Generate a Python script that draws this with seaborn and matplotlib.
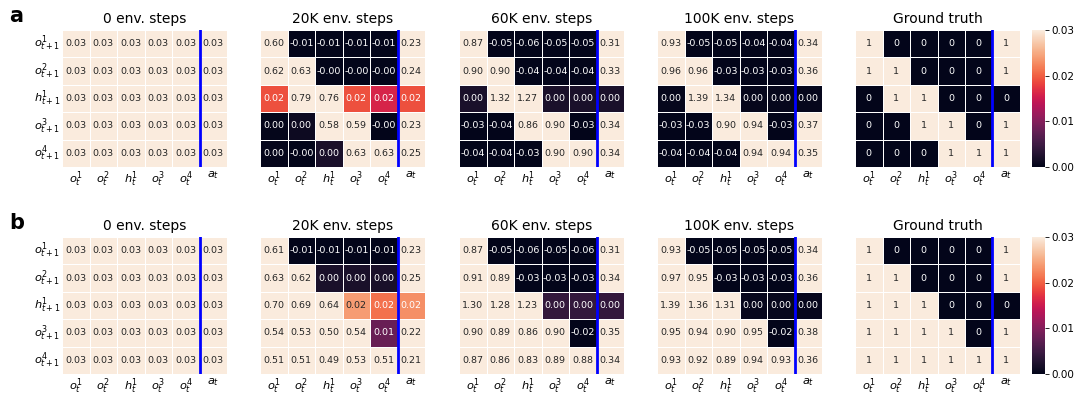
import matplotlib
matplotlib.use("Agg")
import matplotlib.pyplot as plt
import numpy as np
import seaborn as sns

# labels
titles = ["0 env. steps", "20K env. steps", "60K env. steps", "100K env. steps", "Ground truth"]
row_labels = ["$o^1_{t+1}$", "$o^2_{t+1}$", "$h^1_{t+1}$", "$o^3_{t+1}$", "$o^4_{t+1}$"]
col_labels = ["$o^1_t$", "$o^2_t$", "$h^1_t$", "$o^3_t$", "$o^4_t$", "$a_t$"]

# panel a
a_0k = [[0.03, 0.03, 0.03, 0.03, 0.03, 0.03],
        [0.03, 0.03, 0.03, 0.03, 0.03, 0.03],
        [0.03, 0.03, 0.03, 0.03, 0.03, 0.03],
        [0.03, 0.03, 0.03, 0.03, 0.03, 0.03],
        [0.03, 0.03, 0.03, 0.03, 0.03, 0.03]]
a_20k = [[0.60, -0.01, -0.01, -0.01, -0.01, 0.23],
         [0.62, 0.63, -0.001, -0.001, -0.001, 0.24],
         [0.019, 0.79, 0.76, 0.019, 0.016, 0.019],
         [0.0003, 0.001, 0.58, 0.59, -0.001, 0.23],
         [0.0003, -0.001, 0.002, 0.63, 0.63, 0.25]]
a_60k = [[0.87, -0.05, -0.06, -0.05, -0.05, 0.31],
         [0.90, 0.90, -0.04, -0.04, -0.04, 0.33],
         [0.002, 1.32, 1.27, 0.002, 0.002, 0.002],
         [-0.03, -0.04, 0.86, 0.90, -0.03, 0.34],
         [-0.04, -0.04, -0.03, 0.90, 0.90, 0.34]]
a_100k = [[0.93, -0.05, -0.05, -0.04, -0.04, 0.34],
          [0.96, 0.96, -0.03, -0.03, -0.03, 0.36],
          [0.0004, 1.39, 1.34, 0.0004, 0.0004, 0.0004],
          [-0.03, -0.03, 0.90, 0.94, -0.03, 0.37],
          [-0.04, -0.04, -0.04, 0.94, 0.94, 0.35]]
a_truth = [[1, 0, 0, 0, 0, 1],
           [1, 1, 0, 0, 0, 1],
           [0, 1, 1, 0, 0, 0],
           [0, 0, 1, 1, 0, 1],
           [0, 0, 0, 1, 1, 1]]

# panel b
b_0k = [[0.03, 0.03, 0.03, 0.03, 0.03, 0.03],
        [0.03, 0.03, 0.03, 0.03, 0.03, 0.03],
        [0.03, 0.03, 0.03, 0.03, 0.03, 0.03],
        [0.03, 0.03, 0.03, 0.03, 0.03, 0.03],
        [0.03, 0.03, 0.03, 0.03, 0.03, 0.03]]
b_20k = [[0.61, -0.01, -0.01, -0.01, -0.01, 0.23],
         [0.63, 0.62, 0.002, 0.002, 0.002, 0.25],
         [0.70, 0.69, 0.64, 0.024, 0.021, 0.023],
         [0.54, 0.53, 0.50, 0.54, 0.008, 0.22],
         [0.51, 0.51, 0.49, 0.53, 0.51, 0.21]]
b_60k = [[0.87, -0.05, -0.06, -0.05, -0.06, 0.31],
         [0.91, 0.89, -0.03, -0.03, -0.03, 0.34],
         [1.30, 1.28, 1.23, 0.004, 0.004, 0.004],
         [0.90, 0.89, 0.86, 0.90, -0.02, 0.35],
         [0.87, 0.86, 0.83, 0.89, 0.88, 0.34]]
b_100k = [[0.93, -0.05, -0.05, -0.05, -0.05, 0.34],
          [0.97, 0.95, -0.03, -0.03, -0.03, 0.36],
          [1.39, 1.36, 1.31, 0.0005, 0.0005, 0.0005],
          [0.95, 0.94, 0.90, 0.95, -0.02, 0.38],
          [0.93, 0.92, 0.89, 0.94, 0.93, 0.36]]
b_truth = [[1, 0, 0, 0, 0, 1],
           [1, 1, 0, 0, 0, 1],
           [1, 1, 1, 0, 0, 0],
           [1, 1, 1, 1, 0, 1],
           [1, 1, 1, 1, 1, 1]]

panels = {"a": [a_0k, a_20k, a_60k, a_100k, a_truth],
          "b": [b_0k, b_20k, b_60k, b_100k, b_truth]}

W, H = 1075, 396
fig = plt.figure(figsize=(W / 100, H / 100), dpi=100)

def px_axes(x0, y0, w, h):
    return fig.add_axes([x0 / W, 1 - (y0 + h) / H, w / W, h / H])

lefts = [62, 260, 459, 657, 855]
tops = {"a": 30, "b": 237}
hm_w, hm_h = 165, 137

for key, mats in panels.items():
    top = tops[key]
    cax = px_axes(1032, top, 13, hm_h)
    for i, mat in enumerate(mats):
        ax = px_axes(lefts[i], top, hm_w, hm_h)
        last = i == len(mats) - 1
        sns.heatmap(np.array(mat), ax=ax, vmin=0, vmax=0.03,
                    annot=True, fmt="d" if last else ".2f",
                    annot_kws={"fontsize": 6.8},
                    linewidths=0.7, linecolor="white",
                    cbar=last, cbar_ax=cax if last else None,
                    xticklabels=col_labels,
                    yticklabels=row_labels if i == 0 else False)
        ax.axvline(5, color="blue", linewidth=2)
        ax.set_title(titles[i], fontsize=10, pad=5)
        ax.tick_params(length=0, labelsize=8.2, pad=1.5)
        if i == 0:
            ax.set_yticklabels(ax.get_yticklabels(), rotation=0)
        ax.set_xticklabels(ax.get_xticklabels(), rotation=0)
    cax.tick_params(labelsize=7.5, length=3, width=0.6, pad=1.5)
    cax.set_yticks([0, 0.01, 0.02, 0.03])
    cax.set_yticklabels(["0.00", "0.01", "0.02", "0.03"])
    fig.text(9 / W, 1 - (top - 14) / H, key, fontsize=15, fontweight="bold", va="center")

fig.savefig("out.png", dpi=100)
